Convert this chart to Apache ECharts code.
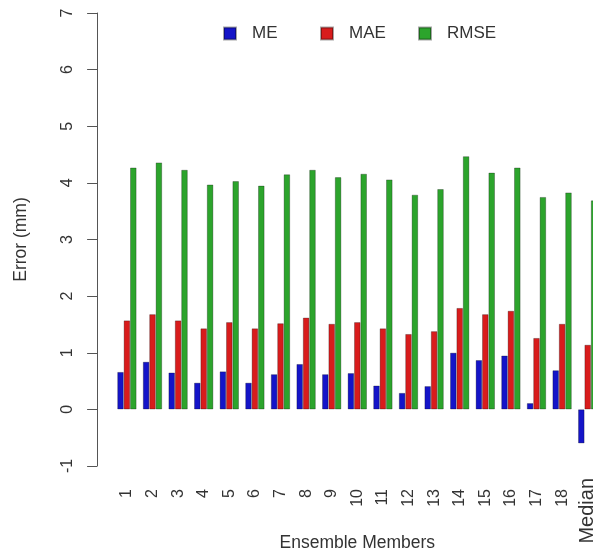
<!DOCTYPE html>
<html>
<head>
<meta charset="utf-8">
<script src="https://cdn.jsdelivr.net/npm/echarts@6/dist/echarts.min.js"></script>
<style>
  html, body { margin: 0; padding: 0; background: #fff; overflow: hidden; }
  #chart { width: 593px; height: 554px; }
</style>
</head>
<body>
<div id="chart"></div>
<script>
// Error statistics per ensemble member (mm)
const members = ['1','2','3','4','5','6','7','8','9','10','11','12','13','14','15','16','17','18','Median'];
const meValues   = [0.66, 0.84, 0.65, 0.47, 0.67, 0.47, 0.62, 0.80, 0.62, 0.64, 0.42, 0.29, 0.41, 1.00, 0.87, 0.95, 0.11, 0.69, -0.60];
const maeValues  = [1.57, 1.68, 1.57, 1.43, 1.54, 1.43, 1.52, 1.62, 1.51, 1.54, 1.43, 1.33, 1.38, 1.79, 1.68, 1.74, 1.26, 1.51, 1.14];
const rmseValues = [4.27, 4.36, 4.23, 3.97, 4.03, 3.95, 4.15, 4.23, 4.10, 4.16, 4.06, 3.79, 3.89, 4.47, 4.18, 4.27, 3.75, 3.83, 3.69];
const yTicks = [-1, 0, 1, 2, 3, 4, 5, 6, 7];

const FONT = '"Liberation Sans", Arial, Helvetica, sans-serif';
const TEXT = '#333';
const colors = { ME: '#1414c8', MAE: '#d81c1c', RMSE: '#2ca42c' };

const chart = echarts.init(document.getElementById('chart'), null, { renderer: 'canvas' });

function legendAt(name, left) {
  return {
    data: [name],
    left: left,
    top: 25,
    padding: 0,
    orient: 'horizontal',
    icon: 'rect',
    itemWidth: 12,
    itemHeight: 12,
    selectedMode: false,
    textStyle: { fontFamily: FONT, fontSize: 17, color: TEXT, padding: [0, 0, 0, 11] }
  };
}

function barSeries(name, values) {
  return {
    name: name,
    type: 'bar',
    data: values,
    barWidth: 6.4,
    barGap: '0%',
    itemStyle: { color: colors[name], borderColor: 'rgba(0,0,0,0.35)', borderWidth: 0.8 },
    emphasis: { disabled: true }
  };
}

chart.setOption({
  animation: false,
  backgroundColor: '#fff',
  textStyle: { fontFamily: FONT },
  legend: [legendAt('ME', 223), legendAt('MAE', 320), legendAt('RMSE', 418)],
  grid: { left: 114.1, right: -7.5, top: 13, bottom: 88, containLabel: false, outerBoundsMode: 'none' },
  xAxis: {
    type: 'category',
    data: members,
    boundaryGap: true,
    name: 'Ensemble Members',
    nameLocation: 'middle',
    nameGap: 68,
    nameMoveOverlap: false,
    nameTextStyle: { fontFamily: FONT, fontSize: 17.5, color: TEXT },
    axisLine: { show: false, onZero: false },
    axisTick: { show: false },
    axisLabel: {
      interval: 0,
      rotate: 90,
      margin: 12,
      fontFamily: FONT,
      color: TEXT,
      formatter: function (v) { return v === 'Median' ? '{m|' + v + '}' : '{n|' + v + '}'; },
      rich: {
        n: { fontFamily: FONT, fontSize: 16, color: TEXT, padding: [0, 11, 0, 0] },
        m: { fontFamily: FONT, fontSize: 20, color: TEXT }
      }
    }
  },
  yAxis: {
    type: 'value',
    min: yTicks[0],
    max: yTicks[yTicks.length - 1],
    interval: 1,
    offset: 17,
    name: 'Error (mm)',
    nameLocation: 'middle',
    nameGap: 67,
    nameRotate: 90,
    nameMoveOverlap: false,
    nameTextStyle: { fontFamily: FONT, fontSize: 17.5, color: TEXT },
    axisLine: { show: true, lineStyle: { color: '#555', width: 1 } },
    axisTick: { show: true, length: 10, inside: false, lineStyle: { color: '#555', width: 1 } },
    axisLabel: { rotate: 90, margin: 22, fontFamily: FONT, fontSize: 16, color: TEXT },
    splitLine: { show: false }
  },
  series: [
    barSeries('ME', meValues),
    barSeries('MAE', maeValues),
    barSeries('RMSE', rmseValues)
  ]
});
</script>
</body>
</html>
